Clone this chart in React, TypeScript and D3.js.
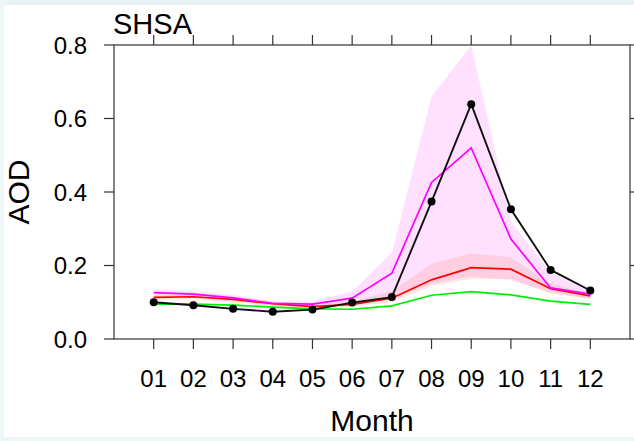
import React from "react";
import * as d3 from "d3";

const months = ["01","02","03","04","05","06","07","08","09","10","11","12"];
const yTicks = [0, 0.2, 0.4, 0.6, 0.8];

const obsBlack = [0.100,0.092,0.082,0.074,0.080,0.099,0.114,0.374,0.639,0.353,0.188,0.132];
const modelMagenta = [0.126,0.122,0.112,0.097,0.095,0.111,0.179,0.426,0.520,0.272,0.139,0.122];
const modelRed = [0.113,0.115,0.108,0.096,0.088,0.094,0.111,0.161,0.194,0.190,0.137,0.117];
const modelGreen = [0.095,0.095,0.092,0.087,0.082,0.081,0.090,0.119,0.129,0.120,0.103,0.094];

const magUpper = [0.135,0.130,0.120,0.103,0.102,0.130,0.235,0.659,0.800,0.320,0.180,0.130];
const magLower = [0.118,0.115,0.105,0.090,0.090,0.095,0.110,0.150,0.170,0.160,0.125,0.110];
const redUpper = [0.120,0.122,0.115,0.102,0.095,0.102,0.130,0.205,0.233,0.222,0.150,0.125];
const redLower = [0.106,0.108,0.100,0.090,0.082,0.088,0.100,0.145,0.163,0.163,0.125,0.108];

export default function App() {
  const W = 634, H = 441;
  const left = 114, right = 630, top = 45, bottom = 339;
  const x = d3.scaleLinear().domain([0, 13]).range([left, right]);
  const y = d3.scaleLinear().domain([0, 0.8]).range([bottom, top]);
  const idx = months.map((_, i) => i + 1);

  const line = (vals: number[]) =>
    d3.line<number>().x((_, i) => x(idx[i])).y((v) => y(v))(vals) || "";
  const area = (lo: number[], hi: number[]) =>
    d3.area<number>().x((_, i) => x(idx[i])).y0((_, i) => y(lo[i])).y1((v) => y(v))(hi) || "";

  const axisColor = "#333";
  const font = "'Liberation Sans', Arial, Helvetica, sans-serif";

  return (
    <svg width={W} height={H} style={{ position: "absolute", left: 0, top: 0, background: "#fff" }}>
      <rect x={0} y={0} width={W} height={5} fill="#e6f4f5" />
      <rect x={0} y={0} width={4} height={H} fill="#eef7f8" />
      <rect x={0} y={437} width={W} height={4} fill="#eef7f8" />
      <defs>
        <clipPath id="plotclip">
          <rect x={left} y={top} width={right - left} height={bottom - top} />
        </clipPath>
      </defs>
      <g clipPath="url(#plotclip)">
        <path d={area(magLower, magUpper)} fill="#ff00ff" fillOpacity={0.12} />
        <path d={area(redLower, redUpper)} fill="#ff7040" fillOpacity={0.16} />
        <path d={line(modelGreen)} fill="none" stroke="#00ee00" strokeWidth={1.7} />
        <path d={line(modelRed)} fill="none" stroke="#ff0000" strokeWidth={1.7} />
        <path d={line(modelMagenta)} fill="none" stroke="#ff00ff" strokeWidth={1.7} />
        <path d={line(obsBlack)} fill="none" stroke="#111" strokeWidth={1.9} />
        {obsBlack.map((v, i) => (
          <circle key={i} cx={x(idx[i])} cy={y(v)} r={4} fill="#000" />
        ))}
      </g>
      <rect x={left} y={top} width={right - left} height={bottom - top} fill="none" stroke={axisColor} strokeWidth={1.2} />
      {idx.map((m) => (
        <g key={m}>
          <line x1={x(m)} x2={x(m)} y1={bottom} y2={bottom + 10} stroke={axisColor} strokeWidth={1.2} />
          <line x1={x(m)} x2={x(m)} y1={top} y2={top - 10} stroke={axisColor} strokeWidth={1.2} />
          <text x={x(m)} y={387} textAnchor="middle" fontFamily={font} fontSize={24} fill="#000">
            {months[m - 1]}
          </text>
        </g>
      ))}
      {yTicks.map((t) => (
        <g key={t}>
          <line x1={left - 10} x2={left} y1={y(t)} y2={y(t)} stroke={axisColor} strokeWidth={1.2} />
          <line x1={right} x2={right + 10} y1={y(t)} y2={y(t)} stroke={axisColor} strokeWidth={1.2} />
          <text x={87} y={y(t)} dy="0.36em" textAnchor="end" fontFamily={font} fontSize={24} fill="#000">
            {t.toFixed(1)}
          </text>
        </g>
      ))}
      <text x={113} y={34} fontFamily={font} fontSize={29} fill="#000">SHSA</text>
      <text x={(left + right) / 2} y={431} textAnchor="middle" fontFamily={font} fontSize={30} fill="#000">Month</text>
      <text transform={`translate(29,${(top + bottom) / 2}) rotate(-90)`} textAnchor="middle" fontFamily={font} fontSize={30} fill="#000">AOD</text>
    </svg>
  );
}
